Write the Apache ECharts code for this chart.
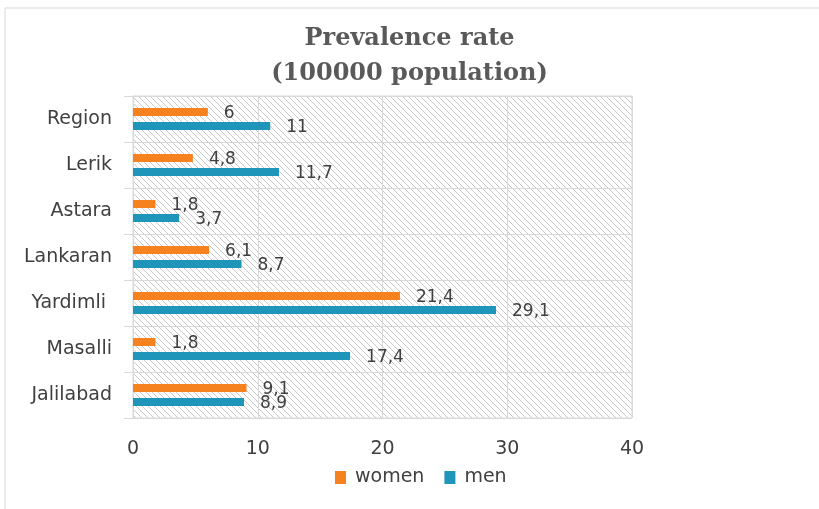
<!DOCTYPE html>
<html>
<head>
<meta charset="utf-8">
<script src="https://cdn.jsdelivr.net/npm/echarts@6/dist/echarts.min.js"></script>
<style>
  html, body { margin: 0; padding: 0; background: #ffffff; }
  #chart { width: 819px; height: 509px; }
</style>
</head>
<body>
<div id="chart"></div>
<script>
// Districts, listed bottom to top as they appear on the category axis
const districts = ['Jalilabad', 'Masalli', 'Yardimli ', 'Lankaran', 'Astara', 'Lerik', 'Region'];
// Prevalence per 100000 population
const women = [9.1, 1.8, 21.4, 6.1, 1.8, 4.8, 6];
const men = [8.9, 17.4, 29.1, 8.7, 3.7, 11.7, 11];
const xTicks = [0, 10, 20, 30, 40];

const ORANGE = '#F5821F';
const TEAL = '#1F96B9';
const GRID_GRAY = '#d9d9d9';
const TEXT = '#404040';
const SANS = '"DejaVu Sans", sans-serif';

// Diagonal hatch tile used to fill the plot area
function hatchTile() {
  const size = 6;
  const c = document.createElement('canvas');
  c.width = size; c.height = size;
  const ctx = c.getContext('2d');
  ctx.fillStyle = '#ffffff';
  ctx.fillRect(0, 0, size, size);
  ctx.strokeStyle = '#c8c8c8';
  ctx.lineWidth = 1;
  for (const k of [-size, 0, size]) {
    ctx.beginPath();
    ctx.moveTo(k - 1, -1);
    ctx.lineTo(k + size + 1, size + 1);
    ctx.stroke();
  }
  return c;
}

const fmt = p => String(p.value).replace('.', ',');

const valueLabel = {
  show: true, position: 'right', distance: 16, offset: [0, 2],
  formatter: fmt, fontFamily: SANS, fontSize: 17, color: TEXT
};

const chart = echarts.init(document.getElementById('chart'), null, { renderer: 'canvas' });
chart.setOption({
  animation: false,
  backgroundColor: '#ffffff',
  graphic: [{
    type: 'rect',
    shape: { x: 5, y: 8, width: 900, height: 600 },
    style: { fill: 'none', stroke: GRID_GRAY, lineWidth: 1 },
    silent: true
  }],
  title: {
    text: 'Prevalence rate\n(100000 population)',
    left: 'center',
    top: 16,
    textStyle: {
      fontFamily: '"DejaVu Serif", serif',
      fontWeight: 'bold',
      fontSize: 24,
      lineHeight: 35,
      color: '#595959'
    }
  },
  legend: {
    data: ['women', 'men'],
    left: 330,
    top: 463,
    itemWidth: 11,
    itemHeight: 13,
    itemGap: 20,
    icon: 'rect',
    textStyle: { fontFamily: SANS, fontSize: 19, color: TEXT, padding: [0, 0, 0, 4] }
  },
  grid: {
    left: 133,
    right: 187,
    top: 96,
    bottom: 91,
    show: true,
    borderColor: GRID_GRAY,
    borderWidth: 1,
    backgroundColor: { image: hatchTile(), repeat: 'repeat' },
    containLabel: false
  },
  xAxis: {
    type: 'value',
    min: xTicks[0],
    max: xTicks[xTicks.length - 1],
    interval: xTicks[1] - xTicks[0],
    axisLine: { show: false },
    axisTick: { show: false },
    splitLine: { show: true, lineStyle: { color: GRID_GRAY, width: 1 } },
    axisLabel: { margin: 22, fontFamily: SANS, fontSize: 19, color: TEXT }
  },
  yAxis: {
    type: 'category',
    data: districts,
    axisLine: { show: true, lineStyle: { color: GRID_GRAY } },
    axisTick: { show: true, length: 9, lineStyle: { color: GRID_GRAY } },
    splitLine: { show: true, lineStyle: { color: GRID_GRAY, width: 1 } },
    axisLabel: { margin: 21, fontFamily: SANS, fontSize: 19, color: TEXT }
  },
  series: [
    {
      name: 'women',
      type: 'bar',
      data: women,
      barWidth: 8,
      barGap: '75%',
      itemStyle: { color: ORANGE },
      label: valueLabel
    },
    {
      name: 'men',
      type: 'bar',
      data: men,
      barWidth: 8,
      barGap: '75%',
      itemStyle: { color: TEAL },
      label: valueLabel
    }
  ]
});
</script>
</body>
</html>
